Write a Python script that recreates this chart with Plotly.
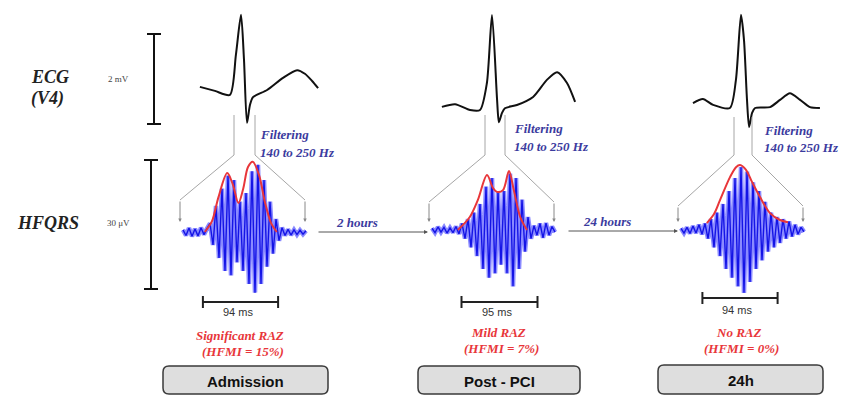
import plotly.graph_objects as go

# ---------------- data ----------------
stages = ["Admission", "Post - PCI", "24h"]
intervals = ["2 hours", "24 hours"]
qrs_duration_ms = [94, 95, 94]
raz_labels = ["Significant RAZ", "Mild RAZ", "No RAZ"]
hfmi_pct = [15, 7, 0]

# ECG (V4) traces: time (ms, relative to R peak) and amplitude (mV)
ecg_t_1 = [-137, -87, -37, -17, 0, 10, 20, 30, 40, 87, 140, 187, 213, 237, 257]
ecg_v_1 = [0.07, -0.02, -0.11, 0.78, 1.67, 0.67, -0.73, -0.33, -0.16, 0.0, 0.27, 0.44, 0.36, 0.20, 0.04]
ecg_t_2 = [-167, -123, -73, -40, -17, 0, 17, 23, 33, 43, 83, 137, 183, 217, 250, 277]
ecg_v_2 = [0.07, 0.13, 0.0, 0.0, 0.60, 2.11, 0.22, -0.27, -0.07, 0.04, 0.11, 0.29, 0.67, 0.84, 0.60, 0.18]
ecg_t_3 = [-160, -127, -93, -37, -17, 0, 10, 20, 27, 37, 47, 97, 130, 163, 197, 230, 263]
ecg_v_3 = [0.11, 0.20, 0.07, 0.0, 0.62, 2.07, 1.51, 0.18, -0.42, -0.11, 0.0, 0.02, 0.18, 0.33, 0.18, 0.02, 0.0]

# HFQRS (140-250 Hz) samples, uV, one sample every 3.75 ms
hf_dt_ms = 3.75
hf_1 = [0.5, -0.8, 0.9, -1.0, 0.7, -0.9, 1.0, -0.6, 0.8,
        2, -3, 6, -6, 10, -9, 13, -10, 12, -7, 7, -9, 9, -12, 14, -14, 15.5, -12, 12, -8, 7, -5, 3, -2,
        1.0, -0.8, 0.6, -0.7, 0.5, -0.6, 0.4, -0.5, 0.3]
hf_2 = [0.4, -0.6, 0.7, -0.5, 0.6, -0.7, 0.5, -0.6, 0.8, -0.9,
        1.5, -2, 2.5, -4, 4, -6, 6, -9, 10, -11, 12, -10, 9, -8, 9, -10, 13, -13, 12, -9, 7, -5, 3, -2,
        1.0, -1.2, 1.5, -1.8, 1.6, -1.2, 0.8, -0.5]
hf_3 = [0.4, -0.7, 0.6, -0.8, 0.9, -0.7, 1.2, -1.0, 1.5,
        -2, 2.5, -4, 4, -6, 6, -9, 9, -11, 12, -13, 14.5, -14.5, 13.5, -12, 11, -9, 9, -7, 6.5, -5, 4, -4, 3,
        -3, 2.5, -2, 2, -1.5, 1.2, -1, 0.6, -0.4]

# HFQRS envelopes: time (ms from window start), amplitude (uV)
env_t_1 = [31, 40, 48, 59, 66, 73, 79, 85, 91, 99, 106, 114, 121]
env_v_1 = [0, 2.5, 8, 13.6, 11, 6.7, 10, 15, 16.2, 13, 7, 2, 0]
env_t_2 = [36, 51, 61, 72.5, 80, 85, 92.5, 100, 106, 114, 122.5]
env_v_2 = [0, 3, 6.9, 12.7, 9.7, 8.8, 9.2, 13.6, 9.2, 3, 0]
env_t_3 = [36, 45, 52.5, 65, 72.5, 77.5, 85, 92.5, 102.5, 115, 127.5, 137.5]
env_v_3 = [1.6, 3.7, 6.9, 12.2, 14.5, 15, 13.9, 11.1, 7.6, 3.9, 2.3, 1.8]

ecg_t = [ecg_t_1, ecg_t_2, ecg_t_3]
ecg_v = [ecg_v_1, ecg_v_2, ecg_v_3]
hf = [hf_1, hf_2, hf_3]
env_t = [env_t_1, env_t_2, env_t_3]
env_v = [env_v_1, env_v_2, env_v_3]

# ---------------- layout constants (pixels) ----------------
W, H = 850, 396
ECG_PX_PER_MS = 0.3
ECG_PX_PER_MV = 45.0
HF_PX_PER_MS = 0.8
HF_PX_PER_UV = 130 / 30

R_X = [241, 492, 741]
ECG_BASE_Y = [90, 110, 108]
HF_X0 = [180, 429, 678]
HF_W = 125
HF_BASE_Y = [232, 230, 230]
FUNNEL_TOP = [(234, 255, 115), (485, 505, 115), (734, 752, 117)]
FUNNEL_MID_Y = [200, 202, 206]
FUNNEL_BOT_Y = 222
BAR_CX = [240.5, 499.5, 740]
BAR_Y = [302, 302, 298]
TXT_CX = [240, 498, 738]
MS_Y = [312, 312, 310]
RAZ_Y = [335, 332, 332]
HFMI_Y = [351, 348, 348]
BOX = [(163, 328, 366, 394), (418, 580, 366, 394), (658, 823, 365, 394)]
FILT_XY = [(258, 134, 152), (512, 128, 146), (762, 130, 147)]
ARROWS = [(317, 428, 232), (567, 678, 231)]

RED = "#e8363a"
BLUE_TXT = "#3b3b9e"
HF_DARK = "#1414e6"
HF_LIGHT = "#8a8aff"
GREY = "#a6a6a6"

fig = go.Figure()
shapes = []
annos = []

serif = "Liberation Serif"
sans = "Liberation Sans"

for p in range(3):
    # ECG
    xs = [R_X[p] + t * ECG_PX_PER_MS for t in ecg_t[p]]
    ys = [ECG_BASE_Y[p] - v * ECG_PX_PER_MV for v in ecg_v[p]]
    fig.add_trace(go.Scatter(x=xs, y=ys, mode="lines",
                             line=dict(color="#111111", width=2, shape="spline", smoothing=0.7),
                             hoverinfo="skip"))
    # HF signal
    hx = [HF_X0[p] + 3 + i * hf_dt_ms * HF_PX_PER_MS for i in range(len(hf[p]))]
    hy = [HF_BASE_Y[p] - v * HF_PX_PER_UV for v in hf[p]]
    fig.add_trace(go.Scatter(x=hx, y=hy, mode="lines",
                             line=dict(color=HF_LIGHT, width=4.5), hoverinfo="skip"))
    fig.add_trace(go.Scatter(x=hx, y=hy, mode="lines",
                             line=dict(color=HF_DARK, width=1.4), hoverinfo="skip"))
    # envelope
    ex = [HF_X0[p] + t * HF_PX_PER_MS for t in env_t[p]]
    ey = [HF_BASE_Y[p] - v * HF_PX_PER_UV for v in env_v[p]]
    fig.add_trace(go.Scatter(x=ex, y=ey, mode="lines",
                             line=dict(color=RED, width=2, shape="spline", smoothing=0.9),
                             hoverinfo="skip"))

    # funnel
    xl_top, xr_top, ytop = FUNNEL_TOP[p]
    xl, xr = HF_X0[p], HF_X0[p] + HF_W
    ymid = FUNNEL_MID_Y[p]
    for a, b in [((xl_top, ytop), (xl_top, 155)), ((xr_top, ytop), (xr_top, 155)),
                 ((xl_top, 155), (xl, ymid)), ((xr_top, 155), (xr, ymid))]:
        shapes.append(dict(type="line", x0=a[0], y0=a[1], x1=b[0], y1=b[1],
                           line=dict(color=GREY, width=1)))
    for xx in (xl, xr):
        annos.append(dict(x=xx, y=FUNNEL_BOT_Y, ax=xx, ay=ymid, xref="x", yref="y",
                          axref="x", ayref="y", text="", showarrow=True,
                          arrowhead=2, arrowsize=0.7, arrowwidth=1, arrowcolor="#888888"))

    # duration bar
    half = qrs_duration_ms[p] * HF_PX_PER_MS / 2
    bx0, bx1, by = BAR_CX[p] - half, BAR_CX[p] + half, BAR_Y[p]
    shapes.append(dict(type="line", x0=bx0, x1=bx1, y0=by, y1=by, line=dict(color="#222", width=2)))
    for bx in (bx0, bx1):
        shapes.append(dict(type="line", x0=bx, x1=bx, y0=by - 6, y1=by + 6, line=dict(color="#222", width=2)))
    annos.append(dict(x=BAR_CX[p] - 3, y=MS_Y[p], text=f"{qrs_duration_ms[p]} ms", showarrow=False,
                      font=dict(family=sans, size=11, color="#333")))
    annos.append(dict(x=TXT_CX[p], y=RAZ_Y[p], text=f"<b><i>{raz_labels[p]}</i></b>", showarrow=False,
                      font=dict(family=serif, size=13, color=RED)))
    annos.append(dict(x=TXT_CX[p] + 3, y=HFMI_Y[p], text=f"<b><i>(HFMI = {hfmi_pct[p]}%)</i></b>",
                      showarrow=False, font=dict(family=serif, size=13, color=RED)))

    # stage box
    x0, x1, y0, y1 = BOX[p]
    r = 6
    path = (f"M {x0+r},{y0} L {x1-r},{y0} Q {x1},{y0} {x1},{y0+r} L {x1},{y1-r} "
            f"Q {x1},{y1} {x1-r},{y1} L {x0+r},{y1} Q {x0},{y1} {x0},{y1-r} "
            f"L {x0},{y0+r} Q {x0},{y0} {x0+r},{y0} Z")
    shapes.append(dict(type="path", path=path, fillcolor="#dedede",
                       line=dict(color="#3a3a3a", width=1.5)))
    annos.append(dict(x=(x0 + x1) / 2, y=(y0 + y1) / 2 + 1, text=f"<b>{stages[p]}</b>", showarrow=False,
                      font=dict(family=sans, size=15, color="#111")))

    # filtering text
    fx, fy1, fy2 = FILT_XY[p]
    annos.append(dict(x=fx, y=fy1, text="<b><i>Filtering</i></b>", showarrow=False, xanchor="left",
                      font=dict(family=serif, size=13, color=BLUE_TXT)))
    annos.append(dict(x=fx, y=fy2, text="<b><i>140 to 250 Hz</i></b>", showarrow=False, xanchor="left",
                      font=dict(family=serif, size=13, color=BLUE_TXT)))

# interval arrows
for k, (ax0, ax1, ay) in enumerate(ARROWS):
    annos.append(dict(x=ax1, y=ay, ax=ax0, ay=ay, xref="x", yref="y", axref="x", ayref="y",
                      text="", showarrow=True, arrowhead=2, arrowsize=0.8, arrowwidth=1,
                      arrowcolor="#555555"))
    annos.append(dict(x=ax0 + 40, y=ay - 10, text=f"<b><i>{intervals[k]}</i></b>", showarrow=False,
                      font=dict(family=serif, size=13, color=BLUE_TXT)))

# scale bars
for (sx, sy0, sy1) in [(154, 34, 124), (151, 160, 289)]:
    shapes.append(dict(type="line", x0=sx, x1=sx, y0=sy0, y1=sy1, line=dict(color="#111", width=2)))
    for sy in (sy0, sy1):
        shapes.append(dict(type="line", x0=sx - 7, x1=sx + 7, y0=sy, y1=sy, line=dict(color="#111", width=2)))

annos.append(dict(x=118, y=79, text="2 mV", showarrow=False, font=dict(family=serif, size=9, color="#444")))
annos.append(dict(x=118, y=223, text="30 μV", showarrow=False, font=dict(family=serif, size=9, color="#444")))
annos.append(dict(x=50, y=77, text="<b><i>ECG</i></b>", showarrow=False, font=dict(family=serif, size=18, color="#222")))
annos.append(dict(x=47, y=98, text="<b><i>(V4)</i></b>", showarrow=False, font=dict(family=serif, size=18, color="#222")))
annos.append(dict(x=48, y=223, text="<b><i>HFQRS</i></b>", showarrow=False, font=dict(family=serif, size=18, color="#222")))

for a in annos:
    a.setdefault("xref", "x")
    a.setdefault("yref", "y")

fig.update_layout(
    width=W, height=H, margin=dict(l=0, r=0, t=0, b=0),
    paper_bgcolor="white", plot_bgcolor="white", showlegend=False,
    xaxis=dict(range=[0, W], visible=False, fixedrange=True),
    yaxis=dict(range=[H, 0], visible=False, fixedrange=True),
    shapes=shapes, annotations=annos,
)
fig.write_html("out.html", config={"displayModeBar": False})
